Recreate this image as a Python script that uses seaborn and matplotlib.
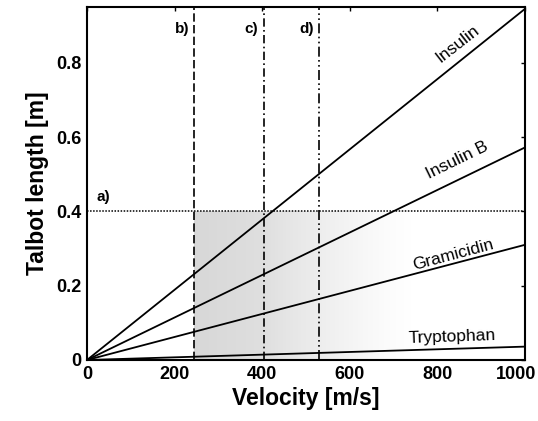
import numpy as np
import pandas as pd
import matplotlib
matplotlib.use("Agg")
import matplotlib.pyplot as plt
import matplotlib.transforms as mtransforms
import seaborn as sns

# ---- data ----
velocity = [0, 1000]
insulin = [0, 0.945]
insulin_b = [0, 0.572]
gramicidin = [0, 0.31]
tryptophan = [0, 0.036]
series_names = ["Insulin", "Insulin B", "Gramicidin", "Tryptophan"]
x_ticks = [0, 200, 400, 600, 800, 1000]
y_ticks = [0, 0.2, 0.4, 0.6, 0.8]
y_tick_labels = ["0", "0.2", "0.4", "0.6", "0.8"]
v_lines = [245, 404, 530]
v_line_labels = ["b)", "c)", "d)"]
h_line = 0.4
h_line_label = "a)"

sns.set_theme(style="white")
plt.rcParams['font.family'] = ['Liberation Sans', 'DejaVu Sans']
plt.rcParams.update({"text.color": "black", "axes.labelcolor": "black",
                     "xtick.color": "black", "ytick.color": "black"})

df = pd.DataFrame({
    "Velocity": velocity * 4,
    "Talbot": insulin + insulin_b + gramicidin + tryptophan,
    "Molecule": [n for n in series_names for _ in velocity],
})

fig = plt.figure(figsize=(5.38, 4.21), dpi=100)
ax = fig.add_axes([0.1617, 0.1449, 0.8141, 0.8385])

# gradient shading region
grad_x = np.linspace(0, 1, 200)
alpha = np.where(grad_x < 0.31, 0.55 - 0.1 * grad_x / 0.31, 0.45 * (1 - (grad_x - 0.31) / 0.69) ** 1.3)
rgba = np.zeros((1, 200, 4))
rgba[..., :3] = 0.72
rgba[0, :, 3] = alpha
ax.imshow(rgba, extent=[v_lines[0], 750, 0, h_line], aspect='auto', zorder=0, interpolation='bilinear')

sns.lineplot(data=df, x="Velocity", y="Talbot", hue="Molecule",
             palette=["black"] * 4, legend=False, ax=ax, linewidth=1.3, zorder=3)

ax.axhline(h_line, color="black", linestyle=(0, (1, 1)), linewidth=1.1, zorder=2)
styles = [(0, (5, 2)), (0, (5, 2, 1, 2)), (0, (6, 2, 1, 2, 1, 2))]
for v, s in zip(v_lines, styles):
    ax.axvline(v, color="black", linestyle=s, linewidth=1.2, zorder=2)

ax.set_xlim(0, 1000)
ax.set_ylim(0, 0.95)
ax.set_xticks(x_ticks)
ax.set_yticks(y_ticks)
ax.set_yticklabels(y_tick_labels)
ax.tick_params(direction="in", length=3, width=1, top=True, right=True,
               labelsize=13, pad=4, colors="black")
for lab in ax.get_xticklabels() + ax.get_yticklabels():
    lab.set_fontweight("bold")
last = ax.get_xticklabels()[-1]
last.set_transform(last.get_transform() + mtransforms.ScaledTranslation(-0.09, 0, fig.dpi_scale_trans))
for sp in ax.spines.values():
    sp.set_color("black")
    sp.set_linewidth(1.5)

ax.set_xlabel("Velocity [m/s]", fontsize=16.5, fontweight="bold", labelpad=3, color="black")
ax.set_ylabel("Talbot length [m]", fontsize=16.5, fontweight="bold", labelpad=5, color="black")

# line labels
ax.text(847, 0.851, "Insulin", rotation=38, fontsize=12.5, ha="center", va="center", color="black")
ax.text(845, 0.537, "Insulin B", rotation=26, fontsize=12.5, ha="center", va="center", color="black")
ax.text(836, 0.282, "Gramicidin", rotation=15, fontsize=12.5, ha="center", va="center", color="black")
ax.text(833, 0.062, "Tryptophan", rotation=2, fontsize=12.5, ha="center", va="center", color="black")

ax.text(37, 0.438, h_line_label, fontsize=11, fontweight="bold", ha="center", va="center", color="black")
for v, lab in zip(v_lines, v_line_labels):
    ax.text(v - 28, 0.89, lab, fontsize=11, fontweight="bold", ha="center", va="center", color="black")

fig.savefig("out.png", dpi=100)
